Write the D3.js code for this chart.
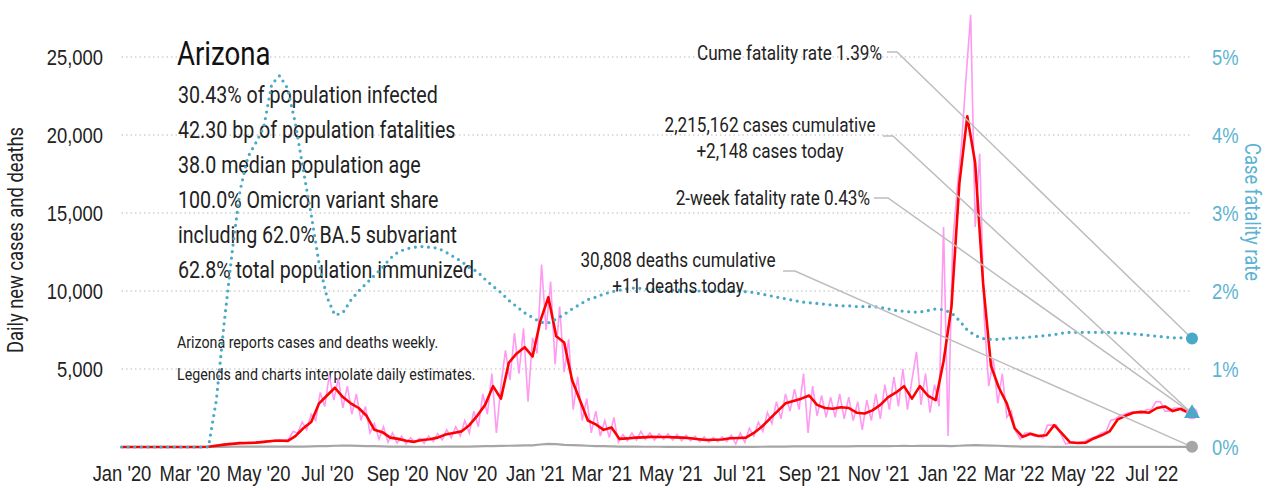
<!DOCTYPE html>
<html>
<head>
<meta charset="utf-8">
<script src="https://cdn.jsdelivr.net/npm/d3@7"></script>
<style>
  html, body { margin: 0; padding: 0; background: #fff; }
  svg { display: block; font-family: Roboto, "Liberation Sans", sans-serif; }
</style>
</head>
<body>
<svg id="chart" width="1270" height="490"></svg>
<script>
// ---- data ----
const START = new Date(2020, 0, 1);
const END = new Date(2022, 7, 6);

// raw daily new cases, one value every 4 days from START
const PINK_STEP = 4;
const casesRaw = [
  0,0,0,0,0,0,0,0,0,0,0,0,0,0,0,0,0,0,0,0,
  50,120,160,190,240,190,300,230,310,250,330,280,400,330,460,380,450,500,
  1000,900,1600,1100,2100,1700,3500,2600,4600,3000,4400,2500,3900,2100,3400,1700,2600,900,1500,500,
  1300,300,900,250,700,200,600,300,550,250,700,350,850,450,1100,600,1300,700,1700,900,2300,1300,3400,2100,
  4700,900,3900,6200,4300,7300,4700,7600,2900,7000,6000,11700,7500,10600,5300,9000,4800,6900,2400,4500,
  1700,3100,900,2300,700,1700,600,1900,300,800,
  400,900,450,1000,500,900,450,850,500,850,450,800,400,750,400,700,350,650,300,600,350,650,350,750,200,900,300,
  1200,700,1600,1000,2200,1500,2900,1800,3400,2300,3700,2400,4700,900,3900,2000,3300,1900,3200,1900,3400,
  1800,3200,1700,2900,1100,3000,1700,3400,1800,4000,2400,4500,2600,5000,2400,4300,6100,2700,4700,2200,4000,2600,
  14100,700,13000,16500,19500,23800,27700,14100,18800,8300,3900,5600,2800,4700,1900,2300,1000,
  500,900,900,700,700,600,1400,1400,1400,800,200,250,250,300,300,500,600,700,900,1000,
  1700,1800,2000,2100,2200,2250,2200,2200,2400,2400,2900,2900,2300,2300,2500,2500,2300,2200,2148
];

// 7-day average of new cases, weekly from START
const WEEK = 7;
const casesAvg = [
  0,0,0,0,0,0,0,0,0,0,0,20,80,150,200,250,260,280,330,380,
  420,380,700,1200,1600,2800,3300,3800,3200,2800,2500,2000,1100,950,600,520,400,330,450,500,
  600,800,900,1000,1400,2000,2700,3900,3100,5400,6000,6400,5800,8100,9600,7100,6700,4300,3000,1700,
  1450,1100,1250,520,550,600,620,650,640,640,620,600,560,500,450,460,480,560,580,600,
  900,1300,1800,2300,2800,2950,3100,3300,2700,2500,2450,2550,2500,2200,2150,2350,2700,3200,3500,3900,
  3100,3900,3300,3000,5500,9000,16900,21200,18200,10500,5200,3800,2800,1200,650,850,700,750,1400,850,
  300,260,280,550,750,1000,1750,2000,2200,2250,2200,2500,2600,2300,2450,2200
];

// daily new deaths, weekly from START
const deaths = [
  0,0,0,0,0,0,0,0,0,0,0,2,5,10,15,20,20,25,25,20,
  20,20,25,30,40,50,60,80,90,85,75,60,50,40,30,25,20,15,15,15,
  15,20,20,25,30,40,50,60,70,80,90,100,110,160,200,180,140,120,100,80,
  60,50,40,30,25,20,15,15,15,12,12,10,10,10,10,8,8,8,8,10,
  12,15,20,25,30,35,40,45,45,45,40,40,45,50,50,55,60,60,65,70,
  65,70,75,80,70,60,80,100,120,100,90,80,60,40,30,25,20,15,12,10,
  8,8,8,8,8,8,8,10,10,10,10,12,12,12,12,12
];

// case fatality rate in %, weekly from START
const cfr = [
  0,0,0,0,0,0,0,0,0,0,0,0,0.6,1.6,2.5,3.29,3.72,3.9,4.1,4.65,
  4.76,4.6,4.15,3.55,2.98,2.35,1.92,1.69,1.72,1.88,2.0,2.1,2.2,2.3,2.42,2.5,2.54,2.56,2.57,2.56,
  2.55,2.5,2.44,2.38,2.3,2.25,2.15,2.06,1.98,1.88,1.8,1.72,1.66,1.6,1.59,1.64,1.7,1.77,1.83,1.89,
  1.92,1.96,1.99,2.01,2.03,2.04,2.03,2.02,2.02,2.01,2.01,2.01,2.0,2.0,2.0,2.0,2.0,2.0,2.0,1.99,
  1.98,1.96,1.94,1.92,1.9,1.88,1.86,1.85,1.84,1.83,1.82,1.81,1.81,1.8,1.8,1.8,1.79,1.77,1.75,1.74,
  1.73,1.73,1.75,1.77,1.76,1.72,1.62,1.5,1.43,1.39,1.38,1.38,1.39,1.4,1.4,1.41,1.42,1.43,1.44,1.46,
  1.47,1.47,1.47,1.47,1.47,1.47,1.46,1.46,1.45,1.44,1.43,1.42,1.41,1.4,1.4,1.39
];

// latest values (end markers)
const lastCases = 2148;
const lastDeaths = 11;
const lastCfr = 1.39;
const lastCfr2wk = 0.43;

const leftTicks = [5000, 10000, 15000, 20000, 25000];
const rightTicks = [0, 1, 2, 3, 4, 5];

const infoTitle = "Arizona";
const infoLines = [
  "30.43% of population infected",
  "42.30 bp of population fatalities",
  "38.0 median population age",
  "100.0% Omicron variant share",
  "including 62.0% BA.5 subvariant",
  "62.8% total population immunized"
];
const noteLines = [
  "Arizona reports cases and deaths weekly.",
  "Legends and charts interpolate daily estimates."
];

// ---- colours ----
const PINK = "#ff99f2";
const RED = "#ff0000";
const GREY = "#a6a6a6";
const BLUE = "#4aaac6";
const BLUE_TXT = "#5cb3d1";
const LEADER = "#bdbdbd";

const svg = d3.select("#chart");

// the reference uses a condensed face; squeeze the installed one to match
const probe = svg.append("text").style("font-size", "23.5px").text(infoLines[0]);
const K = Math.min(1, 260 / probe.node().getComputedTextLength());
probe.remove();

const label = (parent, px, py, str, size, opts = {}) => parent.append("text")
  .attr("transform", `translate(${px},${py})${opts.rotate ? ` rotate(${opts.rotate})` : ""} scale(${K},1)`)
  .attr("text-anchor", opts.anchor || "start")
  .attr("fill", opts.fill || "#222")
  .style("font-size", size + "px")
  .text(str);

// ---- scales ----
const x = d3.scaleTime().domain([START, END]).range([121.5, 1192]);
const y = d3.scaleLinear().domain([0, 25000]).range([447, 57]);
const yR = d3.scaleLinear().domain([0, 5]).range([447, 57]);

const stepDate = (i, step) => d3.timeDay.offset(START, i * step);

const rawPts = casesRaw.map((v, i) => [stepDate(i, PINK_STEP), v]);
const avgPts = casesAvg.map((v, i) => [stepDate(i, WEEK), v]).concat([[END, lastCases]]);
const deathPts = deaths.map((v, i) => [stepDate(i, WEEK), v]).concat([[END, lastDeaths]]);
const cfrPts = cfr.map((v, i) => [stepDate(i, WEEK), v]).concat([[END, lastCfr]]);

// ---- grid ----
svg.append("g")
  .selectAll("line")
  .data(leftTicks)
  .join("line")
  .attr("x1", x.range()[0]).attr("x2", x.range()[1])
  .attr("y1", d => y(d)).attr("y2", d => y(d))
  .attr("stroke", "#bbb")
  .attr("stroke-width", 1.2)
  .attr("stroke-dasharray", "1.5,3");

// ---- axes ----
const styleTicks = (g, fill) => g.selectAll("text")
  .attr("fill", fill)
  .attr("transform", `scale(${K},1)`)
  .style("font-size", "22px")
  .style("font-family", "inherit");

svg.append("g")
  .attr("transform", "translate(0,463)")
  .call(d3.axisBottom(x)
    .ticks(d3.timeMonth.every(2))
    .tickFormat(d3.timeFormat("%b '%y"))
    .tickSize(0).tickPadding(0))
  .call(g => g.select(".domain").remove())
  .call(g => styleTicks(g, "#222").attr("dy", "0.8em"));

svg.append("g")
  .attr("transform", "translate(103,0)")
  .call(d3.axisLeft(y).tickValues(leftTicks).tickFormat(d3.format(",")).tickSize(0).tickPadding(0))
  .call(g => g.select(".domain").remove())
  .call(g => styleTicks(g, "#222"));

svg.append("g")
  .attr("transform", "translate(1212,0)")
  .call(d3.axisRight(yR).tickValues(rightTicks).tickFormat(d => d + "%").tickSize(0).tickPadding(0))
  .call(g => g.select(".domain").remove())
  .call(g => styleTicks(g, BLUE_TXT));

label(svg, 23, 240, "Daily new cases and deaths", 22, { rotate: -90, anchor: "middle" });
label(svg, 1245, 212, "Case fatality rate", 22, { rotate: 90, anchor: "middle", fill: BLUE_TXT });

// ---- info text ----
label(svg, 177, 65, infoTitle, 33, { fill: "#111" });
infoLines.forEach((s, i) => label(svg, 178, 103 + i * 35, s, 23.5));
noteLines.forEach((s, i) => label(svg, 177, 348 + i * 32, s, 17));

// ---- series ----
const line = d3.line().x(d => x(d[0])).y(d => y(d[1]));
const lineR = d3.line().x(d => x(d[0])).y(d => yR(d[1]));

svg.append("path").datum(rawPts)
  .attr("d", line).attr("fill", "none")
  .attr("stroke", PINK).attr("stroke-width", 1.6);

svg.append("path").datum(deathPts)
  .attr("d", line).attr("fill", "none")
  .attr("stroke", GREY).attr("stroke-width", 2.2);

svg.append("path").datum(avgPts)
  .attr("d", line).attr("fill", "none")
  .attr("stroke", RED).attr("stroke-width", 2.6)
  .attr("stroke-linejoin", "round");

svg.append("path").datum(cfrPts)
  .attr("d", lineR).attr("fill", "none")
  .attr("stroke", BLUE).attr("stroke-width", 3.2)
  .attr("stroke-linecap", "round")
  .attr("stroke-dasharray", "0,6.6");

// ---- annotations ----
const ex = x(END);
const notes = [
  { lines: ["Cume fatality rate 1.39%"], tx: 882, anchor: "end", ty: 60, lx: 887, ly: 52, bx: 897, target: yR(lastCfr) },
  { lines: ["2,215,162 cases cumulative", "+2,148 cases today"], tx: 770, anchor: "middle", ty: 132, lx: 883, ly: 136, bx: 893, target: y(lastCases) },
  { lines: ["2-week fatality rate 0.43%"], tx: 870, anchor: "end", ty: 205, lx: 874, ly: 198, bx: 888, target: yR(lastCfr2wk) },
  { lines: ["30,808 deaths cumulative", "+11 deaths today"], tx: 678, anchor: "middle", ty: 267, lx: 783, ly: 271, bx: 795, target: y(lastDeaths) }
];

notes.forEach(n => {
  svg.append("path")
    .attr("d", `M${n.lx},${n.ly}L${n.bx},${n.ly}L${ex},${n.target}`)
    .attr("fill", "none")
    .attr("stroke", LEADER)
    .attr("stroke-width", 1.5);
});

notes.forEach(n => {
  n.lines.forEach((s, i) => label(svg, n.tx, n.ty + i * 26, s, 20.5, { anchor: n.anchor }));
});

// ---- end markers ----
svg.append("circle").attr("cx", ex).attr("cy", y(lastDeaths)).attr("r", 6).attr("fill", GREY);
svg.append("circle").attr("cx", ex).attr("cy", y(lastCases)).attr("r", 6).attr("fill", PINK);
svg.append("path")
  .attr("transform", `translate(${ex},${yR(lastCfr2wk)})`)
  .attr("d", d3.symbol(d3.symbolTriangle, 110)())
  .attr("fill", BLUE);
svg.append("circle").attr("cx", ex).attr("cy", yR(lastCfr)).attr("r", 6).attr("fill", BLUE);
</script>
</body>
</html>
